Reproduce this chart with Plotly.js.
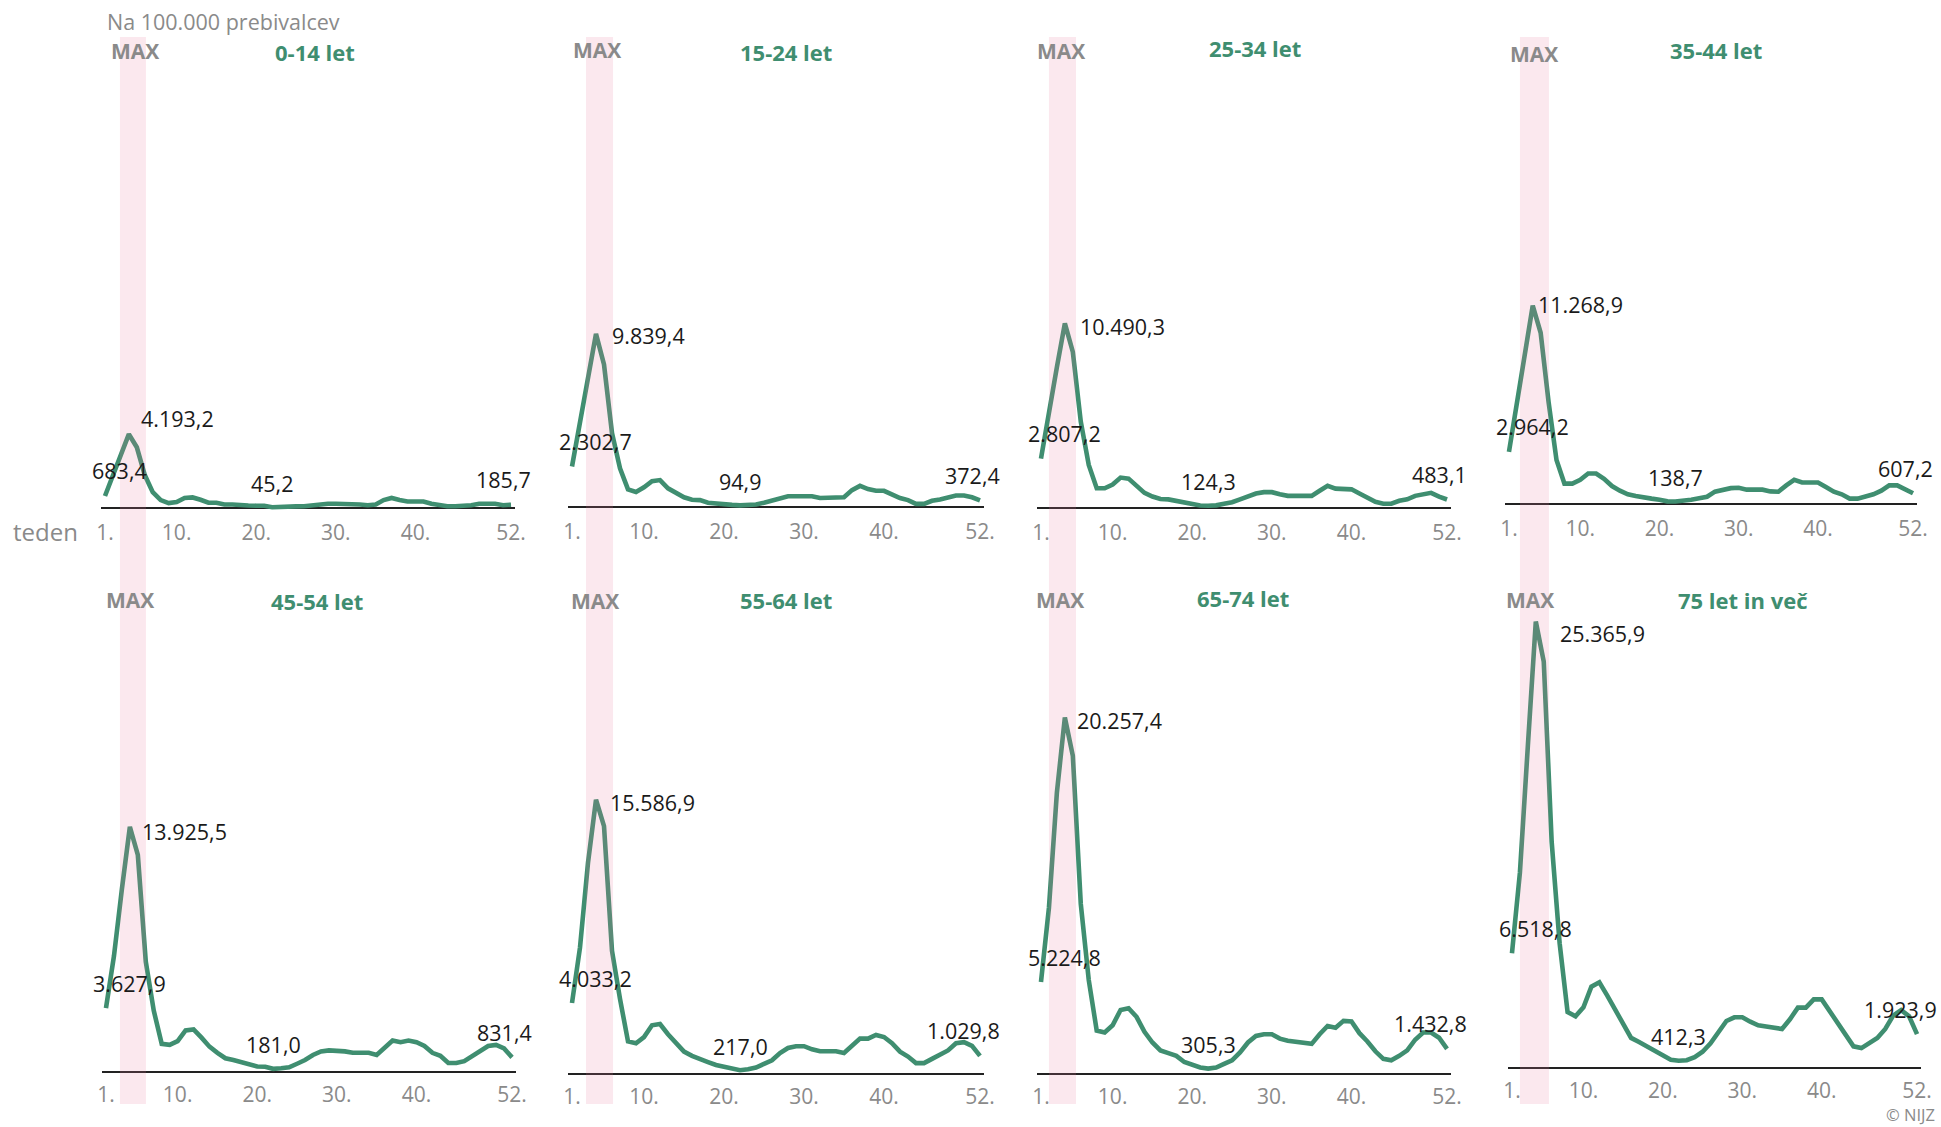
<!DOCTYPE html>
<html>
<head>
<meta charset="utf-8">
<script src="https://cdn.plot.ly/plotly-3.0.1.min.js"></script>
<style>
html,body{margin:0;padding:0;background:#ffffff;}
#chart{width:1941px;height:1127px;}
</style>
</head>
<body>
<div id="chart"></div>
<script>
// ---------- DATA ----------
const weeks = [1,2,3,4,5,6,7,8,9,10,11,12,13,14,15,16,17,18,19,20,21,22,23,24,25,26,
               27,28,29,30,31,32,33,34,35,36,37,38,39,40,41,42,43,44,45,46,47,48,49,50,51,52];
const tickWeeks = [1,10,20,30,40,52];
const tickLabels = ["1.","10.","20.","30.","40.","52."];
const groupNames = ["0-14 let","15-24 let","25-34 let","35-44 let","45-54 let","55-64 let","65-74 let","75 let in več"];

const age0_14 = [683.4,1850,3100,4193.2,3450,1870,900,450,280,340,570,600,470,300,300,200,200,140,140,130,
                 130,45.2,80,90,90,100,150,240,240,240,240,240,200,160,200,450,570,450,370,370,
                 370,240,140,100,100,100,160,240,240,240,160,185.7];
const age15_24 = [2302.7,4900,7500,9839.4,8100,4200,2200,1000,850,1120,1470,1530,1060,800,550,410,390,245,225,140,
                  120,94.9,110,140,245,350,450,610,610,610,610,510,510,510,550,960,1200,1020,920,920,
                  710,510,390,180,180,350,430,550,650,650,550,372.4];
const age25_34 = [2807.2,5500,8000,10490.3,8870,4900,2450,1120,1120,1330,1730,1670,1290,860,650,510,490,410,300,200,
                  140,124.3,150,245,330,490,690,820,900,900,780,690,690,690,690,980,1260,1100,1100,1060,
                  820,610,350,245,245,410,490,690,780,860,650,483.1];
const age35_44 = [2964.2,5700,8600,11268.9,9730,5800,2500,1160,1160,1370,1730,1730,1430,1020,755,550,450,350,305,245,
                  150,138.7,160,245,325,410,700,815,900,920,815,815,815,715,700,1060,1370,1220,1220,1220,
                  960,700,550,305,305,410,550,755,1060,1060,860,607.2];
const age45_54 = [3627.9,6580,10400,13925.5,12330,6270,3490,1600,1540,1750,2360,2420,1950,1440,1090,780,680,555,410,310,
                  300,181.0,210,270,470,680,965,1170,1230,1230,1170,1090,1090,1090,965,1340,1790,1690,1790,1690,
                  1480,1090,925,510,510,615,880,1170,1480,1540,1340,831.4];
const age55_64 = [4033.2,7190,12000,15586.9,14080,7000,4270,1850,1750,2100,2770,2840,2260,1750,1270,1030,820,680,510,410,
                  310,217.0,270,370,575,780,1190,1480,1580,1580,1400,1290,1290,1290,1190,1600,2010,2010,2220,2100,
                  1750,1270,990,620,620,860,1070,1340,1750,1810,1600,1029.8];
const age65_74 = [5224.8,9450,16000,20257.4,18080,9660,5340,2470,2360,2770,3640,3740,3250,2400,1790,1340,1190,1030,680,510,
                  370,305.3,370,575,780,1230,1790,2160,2260,2260,2010,1890,1810,1790,1710,2260,2730,2630,3020,2980,
                  2320,1850,1290,860,780,1030,1340,1950,2360,2360,2060,1432.8];
const age75plus = [6518.8,11100,18300,25365.9,23100,12840,7090,3185,2940,3450,4620,4870,4110,3290,2470,1710,1480,1230,970,680,
                   470,412.3,440,620,925,1400,2060,2670,2880,2880,2630,2430,2360,2320,2220,2770,3430,3430,3900,3900,
                   3230,2530,1950,1230,1130,1440,1710,2220,2980,3290,2940,1923.9];

const series = [age0_14, age15_24, age25_34, age35_44, age45_54, age55_64, age65_74, age75plus];

// ---------- LAYOUT / STYLE ----------
const W = 1941, H = 1127;
const GREEN = "#3f8e70";
const GREY = "#8a8a8a";
const LABEL = "#1a1a1a";
const FONT = "Open Sans, sans-serif";
const PXU = 0.0176;               // pixels per unit (same scale for every panel)
const YMIN = -400, YMAX = 27000;
const colPx = [[101,515],[568,984],[1037,1451],[1505,1917],[102,516],[568,984],[1037,1451],[1508,1921]];
const basePx = [508,507,508,504,1072,1074,1074,1068];
const bandWeeks = [[2.88,6.15],[2.75,6.13],[2.0,5.4],[2.39,6.05]];
const bandPx = [37,1104];
const titlePx = [[315,52],[786,52],[1255,48],[1716,50],[317,601],[786,600],[1243,598],[1743,600]];
const maxPx = [[135,51],[597,50],[1061,51],[1534,54],[130,600],[595,601],[1060,600],[1530,600]];
const peakOff = [[10,-16],[14,2],[13,3],[3,-1],[10,5],[12,3],[10,3],[22,12]];

const px2x = p => p / W;
const px2y = p => 1 - p / H;

function fmt(v){
  const parts = v.toFixed(1).split(".");
  const ip = parts[0].replace(/\B(?=(\d{3})+(?!\d))/g, ".");
  return ip + "," + parts[1];
}

const data = [];
const layout = {
  width: W, height: H,
  margin: {l:0, r:0, t:0, b:0, pad:0},
  paper_bgcolor: "#ffffff",
  plot_bgcolor: "rgba(0,0,0,0)",
  showlegend: false,
  font: {family: FONT, size: 21, color: LABEL},
  annotations: [],
  shapes: []
};

series.forEach((vals, i) => {
  const n = i + 1;
  const xa = n === 1 ? "x" : "x" + n;
  const ya = n === 1 ? "y" : "y" + n;
  data.push({
    x: weeks, y: vals, type: "scatter", mode: "lines",
    xaxis: xa, yaxis: ya,
    line: {color: GREEN, width: 4.6, shape: "linear"},
    hoverinfo: "skip"
  });
  const b = basePx[i];
  const bottomPx = b - YMIN * PXU;
  const topPx = b - YMAX * PXU;
  layout["xaxis" + (n === 1 ? "" : n)] = {
    domain: [px2x(colPx[i][0]), px2x(colPx[i][1])],
    anchor: ya, range: [0.5, 52.5],
    tickvals: tickWeeks, ticktext: tickLabels,
    tickfont: {family: FONT, size: 21, color: GREY},
    ticks: "", showgrid: false, zeroline: false, showline: false,
    ticklabelstandoff: i < 4 ? 3 : 1
  };
  layout["yaxis" + (n === 1 ? "" : n)] = {
    domain: [px2y(bottomPx), px2y(topPx)],
    anchor: xa, range: [YMIN, YMAX],
    showticklabels: false, ticks: "", showgrid: false,
    zeroline: true, zerolinecolor: "#222222", zerolinewidth: 2, showline: false
  };

  // title
  layout.annotations.push({
    xref: "paper", yref: "paper", x: px2x(titlePx[i][0]), y: px2y(titlePx[i][1]),
    xanchor: "center", yanchor: "middle", showarrow: false,
    text: "<b>" + groupNames[i] + "</b>",
    font: {family: FONT, size: 22, color: GREEN}
  });
  // MAX
  layout.annotations.push({
    xref: "paper", yref: "paper", x: px2x(maxPx[i][0]), y: px2y(maxPx[i][1]),
    xanchor: "center", yanchor: "middle", showarrow: false,
    text: "<b>MAX</b>",
    font: {family: FONT, size: 21, color: GREY}
  });

  // value labels computed from the data
  const first = vals[0], last = vals[vals.length - 1];
  let maxI = 0, minI = 0;
  vals.forEach((v, k) => { if (v > vals[maxI]) maxI = k; if (v < vals[minI]) minI = k; });
  const lab = (x, y, text, xanchor, xshift, yshift) => ({
    xref: xa, yref: ya, x: x, y: y, text: text, showarrow: false,
    xanchor: xanchor, yanchor: "middle", xshift: xshift, yshift: yshift,
    font: {family: FONT, size: 21.5, color: LABEL}
  });
  layout.annotations.push(lab(weeks[0], first, fmt(first), "left", -15, 25));
  layout.annotations.push(lab(weeks[maxI], vals[maxI], fmt(vals[maxI]), "left", peakOff[i][0], -peakOff[i][1]));
  layout.annotations.push(lab(weeks[minI], vals[minI], fmt(vals[minI]), "center", 0, 24));
  layout.annotations.push(lab(weeks[weeks.length - 1], last, fmt(last), "right", 22, 25));
});

// MAX bands (one per column, spanning both rows)
bandWeeks.forEach((bw, c) => {
  layout.shapes.push({
    type: "rect", layer: "above",
    xref: c === 0 ? "x" : "x" + (c + 1), yref: "paper",
    x0: bw[0], x1: bw[1], y0: px2y(bandPx[1]), y1: px2y(bandPx[0]),
    fillcolor: "rgba(232,120,155,0.17)", line: {width: 0}
  });
});

// general texts
layout.annotations.push({
  xref: "paper", yref: "paper", x: px2x(105), y: px2y(21), xanchor: "left", yanchor: "middle",
  showarrow: false, text: "Na 100.000 prebivalcev", font: {family: FONT, size: 21.5, color: GREY}
});
layout.annotations.push({
  xref: "paper", yref: "paper", x: px2x(11), y: px2y(531), xanchor: "left", yanchor: "middle",
  showarrow: false, text: "teden", font: {family: FONT, size: 24, color: GREY}
});
layout.annotations.push({
  xref: "paper", yref: "paper", x: px2x(1936), y: 0, xanchor: "right", yanchor: "bottom",
  borderpad: 0, showarrow: false, text: "© NIJZ", font: {family: FONT, size: 16.5, color: GREY}
});

Plotly.newPlot("chart", data, layout, {staticPlot: true, displayModeBar: false});
</script>
</body>
</html>
